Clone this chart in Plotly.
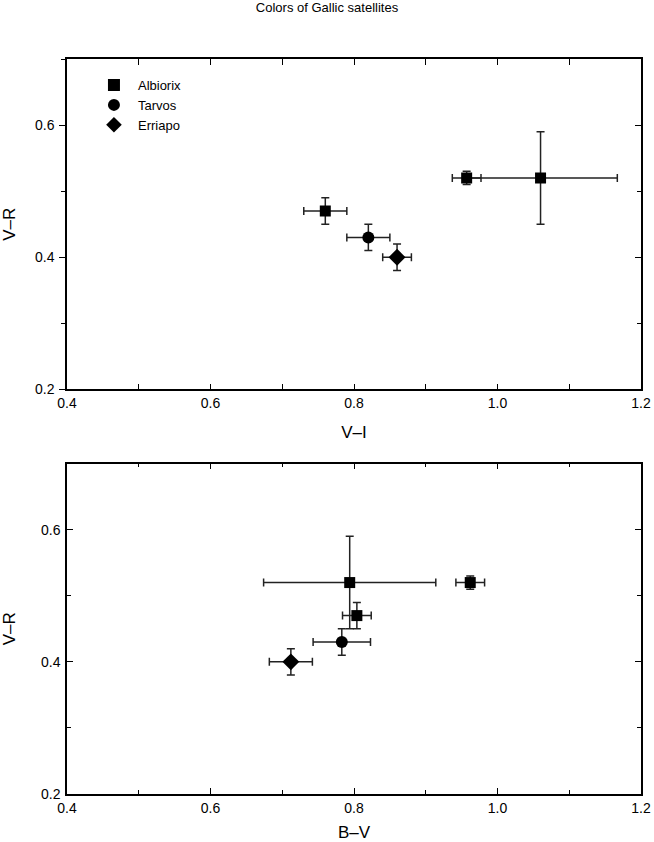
import plotly.graph_objects as go
from plotly.subplots import make_subplots

# Albiorix (three measurements)
alb_vi = [0.76, 0.957, 1.06]
alb_vi_err = [0.03, 0.02, 0.107]
alb_bv = [0.804, 0.962, 0.794]
alb_bv_err = [0.02, 0.02, 0.12]
alb_vr = [0.47, 0.52, 0.52]
alb_vr_err = [0.02, 0.01, 0.07]

# Tarvos
tar_vi = [0.82]
tar_vi_err = [0.03]
tar_bv = [0.783]
tar_bv_err = [0.04]
tar_vr = [0.43]
tar_vr_err = [0.02]

# Erriapo
err_vi = [0.86]
err_vi_err = [0.02]
err_bv = [0.712]
err_bv_err = [0.03]
err_vr = [0.40]
err_vr_err = [0.02]

FONT = "Liberation Sans, Arial, sans-serif"

fig = make_subplots(rows=2, cols=1, vertical_spacing=0.101)

def add_sat(x, xe, y, ye, name, symbol, size, row, show):
    fig.add_trace(
        go.Scatter(
            x=x, y=y, mode="markers", name=name, showlegend=show,
            marker=dict(symbol=symbol, size=size, color="black"),
            error_x=dict(type="data", array=xe, color="#222222", thickness=1.5, width=4),
            error_y=dict(type="data", array=ye, color="#222222", thickness=1.5, width=4),
        ),
        row=row, col=1,
    )

add_sat(alb_vi, alb_vi_err, alb_vr, alb_vr_err, "Albiorix", "square", 11, 1, True)
add_sat(tar_vi, tar_vi_err, tar_vr, tar_vr_err, "Tarvos", "circle", 12, 1, True)
add_sat(err_vi, err_vi_err, err_vr, err_vr_err, "Erriapo", "diamond", 13, 1, True)

add_sat(alb_bv, alb_bv_err, alb_vr, alb_vr_err, "Albiorix", "square", 11, 2, False)
add_sat(tar_bv, tar_bv_err, tar_vr, tar_vr_err, "Tarvos", "circle", 12, 2, False)
add_sat(err_bv, err_bv_err, err_vr, err_vr_err, "Erriapo", "diamond", 13, 2, False)

axis_style = dict(
    showline=True, linecolor="black", linewidth=1.5, mirror="allticks",
    ticks="inside", ticklen=6, tickcolor="black", tickwidth=1,
    showgrid=False, zeroline=False, automargin=False,
    minor=dict(ticks="inside", ticklen=4, dtick=0.1, tickcolor="black"),
    tickfont=dict(size=14, color="black", family=FONT),
)

fig.update_xaxes(range=[0.4, 1.2], dtick=0.2, tickformat=".1f", ticklabelstandoff=0,
                 **axis_style)
fig.update_yaxes(range=[0.2, 0.7], dtick=0.2, tickformat=".1f", ticklabelstandoff=2,
                 **axis_style)
fig.update_xaxes(title=dict(text="V\u2013I", standoff=16), row=1, col=1)
fig.update_xaxes(title=dict(text="B\u2013V", standoff=16), row=2, col=1)
fig.update_yaxes(title=dict(text="V\u2013R", standoff=24), row=1, col=1)
fig.update_yaxes(title=dict(text="V\u2013R", standoff=24), row=2, col=1)

# top panel: left ticks point outward, right frame ticks point inward
fig.update_yaxes(ticks="outside", mirror=True,
                 minor=dict(ticks="outside", ticklen=4, dtick=0.1, tickcolor="black"),
                 row=1, col=1)
fig.update_layout(
    yaxis3=dict(overlaying="y", anchor="x", side="right", range=[0.2, 0.7],
                dtick=0.2, ticks="inside", ticklen=6, tickcolor="black",
                showticklabels=False, showgrid=False, zeroline=False,
                showline=False, automargin=False,
                minor=dict(ticks="inside", ticklen=4, dtick=0.1, tickcolor="black")),
)
fig.add_trace(go.Scatter(x=[None], y=[None], yaxis="y3", xaxis="x",
                         showlegend=False, hoverinfo="skip"))

fig.update_layout(
    width=654, height=842,
    margin=dict(l=67, r=13, t=59, b=48),
    plot_bgcolor="white", paper_bgcolor="white",
    font=dict(family=FONT, size=14, color="black"),
    title=dict(text="Colors of Gallic satellites", x=0.5, xanchor="center",
               y=0.996, yanchor="top", font=dict(size=13)),
    legend=dict(x=0.04, y=0.985, xanchor="left", yanchor="top",
                bgcolor="rgba(0,0,0,0)", font=dict(size=13),
                itemsizing="constant", itemwidth=38, tracegroupgap=2),
)

fig.write_html("out.html", config={"displayModeBar": False},
               post_script="document.body.style.margin='0';")
